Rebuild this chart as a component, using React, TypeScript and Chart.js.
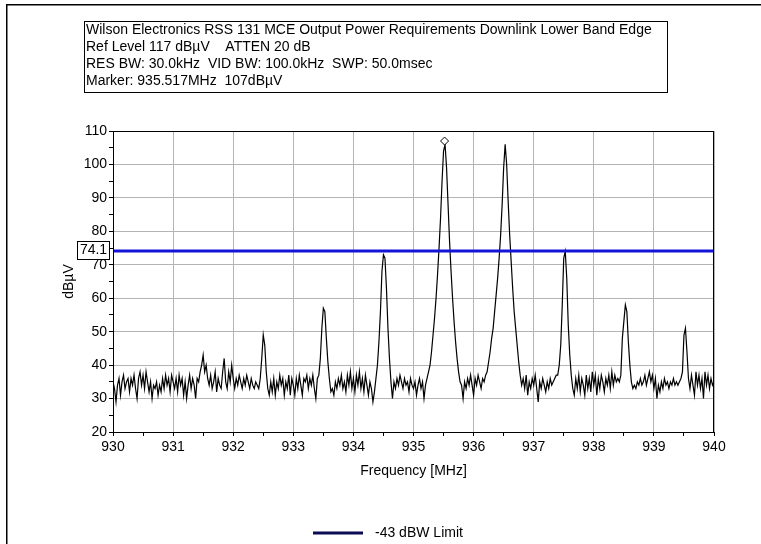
import React, { useEffect, useRef } from 'react';
import { Chart, registerables } from 'chart.js';

Chart.register(...registerables);

// ---- data ----
const FREQ_START_MHZ = 930;
const FREQ_STEP_MHZ = 0.025;
// measured trace, dBµV, one value per 25 kHz from 930.000 to 940.000 MHz
const LEVELS_DBUV = [
  35, 33, 29, 34, 36, 31, 35, 37, 33, 35, 36, 32, 36, 34, 37, 33, 30, 36, 38, 34,
  37, 33, 38, 35, 32, 35, 30, 34, 33, 35, 31, 34, 32, 36, 33, 37, 34, 36, 32, 37,
  35, 33, 36, 32, 37, 34, 36, 31, 35, 30, 34, 37, 33, 36, 34, 30, 36, 35, 38, 40,
  43, 38, 40, 36, 34, 37, 33, 35, 38, 32, 36, 34, 33, 38, 42, 35, 33, 38, 35, 40,
  36, 33, 36, 34, 37, 35, 33, 36, 34, 37, 35, 33, 36, 34, 33, 35, 34, 33, 36, 42,
  49, 46, 38, 33, 31, 35, 32, 36, 31, 35, 33, 37, 34, 36, 31, 35, 33, 37, 31, 36,
  34, 31, 36, 33, 37, 34, 31, 36, 35, 37, 33, 36, 34, 37, 33, 30, 36, 37, 42, 51,
  57, 56, 48, 41, 36, 32, 33, 31, 35, 33, 36, 34, 37, 33, 35, 32, 37, 34, 38, 33,
  36, 32, 37, 34, 38, 33, 36, 32, 37, 34, 31, 35, 33, 29, 32, 36, 40, 47, 56, 68,
  73, 72, 63, 51, 42, 35, 30, 35, 33, 36, 34, 37, 35, 33, 36, 34, 35, 32, 36, 34,
  33, 35, 31, 34, 36, 33, 35, 30, 34, 36, 38, 40, 44, 49, 54, 60, 67, 75, 84, 95,
  104, 106, 99, 88, 77, 68, 60, 53, 47, 42, 38, 35, 34, 30, 35, 33, 36, 34, 37, 34,
  31, 36, 34, 37, 35, 33, 36, 35, 37, 38, 41, 44, 48, 51, 56, 61, 66, 72, 79, 88,
  99, 106, 100, 89, 79, 71, 63, 56, 51, 46, 41, 37, 34, 36, 33, 37, 31, 35, 33, 36,
  34, 37, 33, 29, 35, 33, 36, 34, 32, 35, 33, 36, 34, 35, 36, 37, 37, 40, 46, 58,
  72, 74, 66, 52, 43, 37, 33, 31, 36, 33, 37, 32, 36, 34, 31, 37, 33, 36, 32, 38,
  34, 37, 31, 36, 33, 37, 35, 32, 36, 34, 37, 33, 38, 34, 37, 35, 36, 35, 37, 48,
  53, 58, 56, 47, 40, 35, 33, 34, 33, 35, 34, 36, 34, 35, 37, 34, 36, 38, 35, 37,
  33, 36, 30, 34, 32, 35, 33, 36, 34, 35, 33, 35, 34, 36, 34, 35, 34, 35, 36, 38,
  49, 51, 44, 36, 33, 37, 34, 31, 38, 34, 37, 33, 36, 30, 38, 34, 37, 33, 36, 34,
  35,
];
const LIMIT_DBUV = 74.1;
const LIMIT_LABEL = '-43 dBW Limit';
const MARKER_FREQ_MHZ = 935.517;
const MARKER_LEVEL_DBUV = 107;
const X_MIN = 930;
const X_MAX = 940;
const Y_MIN = 20;
const Y_MAX = 110;
const INFO_LINES = [
  'Wilson Electronics RSS 131 MCE Output Power Requirements Downlink Lower Band Edge',
  'Ref Level 117 dB\u00B5V    ATTEN 20 dB',
  'RES BW: 30.0kHz  VID BW: 100.0kHz  SWP: 50.0msec',
  'Marker: 935.517MHz  107dB\u00B5V',
];
const X_TITLE = 'Frequency [MHz]';
const Y_TITLE = 'dB\u00B5V';

const FONT = 'Arial, "Liberation Sans", sans-serif';

const decorPlugin = {
  id: 'decor',
  afterDraw(chart: any) {
    const { ctx, chartArea: a, scales } = chart;
    ctx.save();
    // plot frame
    ctx.strokeStyle = '#000';
    ctx.lineWidth = 1;
    ctx.strokeRect(Math.round(a.left) + 0.5, Math.round(a.top) + 0.5,
      Math.round(a.right - a.left) - 1, Math.round(a.bottom - a.top));

    // limit value box
    const yl = scales.y.getPixelForValue(LIMIT_DBUV);
    ctx.fillStyle = '#fff';
    ctx.fillRect(77, Math.round(yl) - 10, 32, 18);
    ctx.strokeRect(77.5, Math.round(yl) - 9.5, 32, 18);
    ctx.fillStyle = '#000';
    ctx.font = `14px ${FONT}`;
    ctx.textAlign = 'center';
    ctx.textBaseline = 'middle';
    ctx.fillText(LIMIT_DBUV.toFixed(1), 93.5, Math.round(yl) - 0.5);

    // info box
    ctx.strokeRect(84.5, 21.5, 583, 71);
    ctx.textAlign = 'left';
    INFO_LINES.forEach((t, i) => ctx.fillText(t, 86, 30 + i * 17));

    // legend
    ctx.strokeStyle = '#0a0a55';
    ctx.lineWidth = 3;
    ctx.beginPath();
    ctx.moveTo(313, 533);
    ctx.lineTo(363, 533);
    ctx.stroke();
    ctx.fillStyle = '#000';
    ctx.fillText(LIMIT_LABEL, 375, 533);

    // outer frame (top & left)
    ctx.fillStyle = '#000';
    ctx.fillRect(6, 4, 755, 1.5);
    ctx.fillRect(6, 4, 1.5, 540);
    ctx.restore();
  },
};

export default function App() {
  const ref = useRef<HTMLCanvasElement>(null);
  useEffect(() => {
    const trace = LEVELS_DBUV.map((v, i) => ({ x: FREQ_START_MHZ + i * FREQ_STEP_MHZ, y: v }));
    const chart = new Chart(ref.current as HTMLCanvasElement, {
      type: 'scatter',
      data: {
        datasets: [
          {
            label: 'Marker',
            data: [{ x: MARKER_FREQ_MHZ, y: MARKER_LEVEL_DBUV }],
            pointStyle: 'rectRot',
            pointRadius: 4,
            backgroundColor: '#fff',
            borderColor: '#000',
            borderWidth: 1,
            showLine: false,
            order: 0,
          },
          {
            label: LIMIT_LABEL,
            data: [{ x: X_MIN, y: LIMIT_DBUV }, { x: X_MAX, y: LIMIT_DBUV }],
            showLine: true,
            borderColor: '#1414d8',
            borderWidth: 3,
            pointRadius: 0,
            order: 1,
          },
          {
            label: 'Trace',
            data: trace,
            showLine: true,
            borderColor: '#000',
            borderWidth: 1.2,
            pointRadius: 0,
            order: 2,
          },
        ],
      },
      options: {
        animation: false,
        responsive: false,
        devicePixelRatio: 1,
        layout: { padding: { left: 58, right: 47, top: 131, bottom: 61 } },
        plugins: { legend: { display: false }, tooltip: { enabled: false } },
        scales: {
          x: {
            type: 'linear',
            min: X_MIN,
            max: X_MAX,
            afterFit: (s: any) => { s.height = 51; },
            border: { color: '#000', width: 1 },
            grid: {
              color: (c: any) => (Math.abs(c.tick.value % 1) < 1e-6 ? '#b4b4b4' : 'rgba(0,0,0,0)'),
              tickColor: '#000',
              tickLength: 4,
            },
            ticks: {
              stepSize: 0.5,
              autoSkip: false,
              maxRotation: 0,
              padding: 3,
              color: '#000',
              font: { family: FONT, size: 14 },
              callback: (v: any) => (Math.abs(v % 1) < 1e-6 ? String(Math.round(v)) : ''),
            },
            title: {
              display: true,
              text: X_TITLE,
              color: '#000',
              font: { family: FONT, size: 14 },
              padding: { top: 0, bottom: 3 },
            },
          },
          y: {
            min: Y_MIN,
            max: Y_MAX,
            afterFit: (s: any) => { s.width = 55; },
            border: { color: '#000', width: 1 },
            grid: {
              color: (c: any) => (c.tick.value % 10 === 0 ? '#b4b4b4' : 'rgba(0,0,0,0)'),
              tickColor: '#000',
              tickLength: 4,
            },
            ticks: {
              stepSize: 5,
              autoSkip: false,
              padding: 2,
              color: '#000',
              font: { family: FONT, size: 14 },
              callback: (v: any) => (v % 10 === 0 ? String(v) : ''),
            },
            title: {
              display: true,
              text: Y_TITLE,
              color: '#000',
              font: { family: FONT, size: 14 },
              padding: { top: 3, bottom: 0 },
            },
          },
        },
      },
      plugins: [decorPlugin],
    });
    return () => chart.destroy();
  }, []);
  return (
    <div style={{ position: 'absolute', left: 0, top: 0, width: 761, height: 544, background: '#fff' }}>
      <canvas ref={ref} width={761} height={544} style={{ width: 761, height: 544 }} />
    </div>
  );
}
